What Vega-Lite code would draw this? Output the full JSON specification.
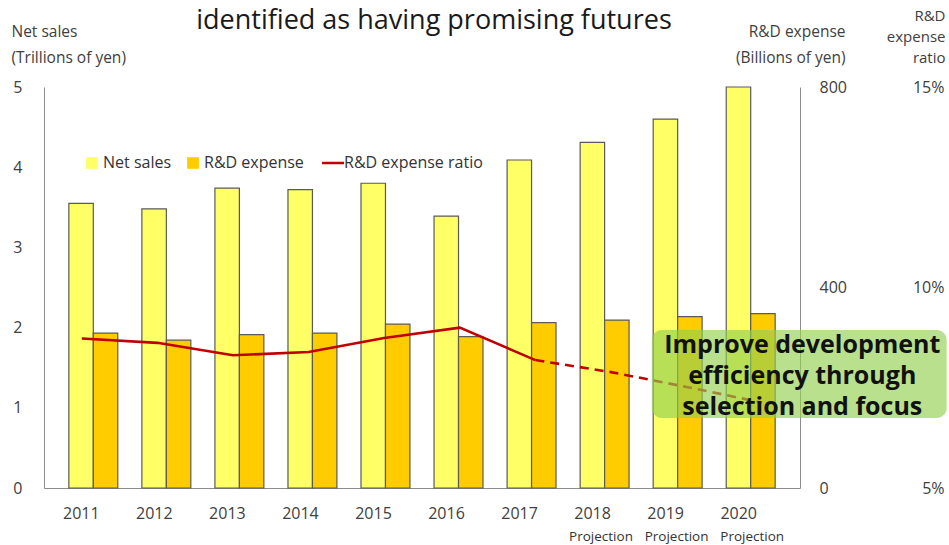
{
  "$schema": "https://vega.github.io/schema/vega-lite/v6.json",
  "width": 756,
  "height": 401,
  "autosize": {"type": "none"},
  "padding": {"left": 44, "top": 87, "right": 149, "bottom": 57},
  "background": "white",
  "config": {
    "view": {"stroke": null},
    "font": "Open Sans",
    "axis": {"labelFont": "Open Sans", "titleFont": "Open Sans", "labelColor": "#404040", "titleColor": "#404040", "grid": false, "ticks": false, "tickSize": 0, "domainColor": "#8c8c8c", "labelFontSize": 16}
  },
  "title": {"text": "identified as having promising futures", "font": "Open Sans", "fontSize": 27, "fontWeight": "normal", "color": "#1a1a1a", "anchor": "middle", "frame": "group", "dx": 12, "dy": 31},
  "data": {
    "values": [
      {"year": 2011, "status": "Actual", "net_sales": 3.55, "rd_expense": 309, "rd_ratio": 8.73},
      {"year": 2012, "status": "Actual", "net_sales": 3.48, "rd_expense": 295, "rd_ratio": 8.62},
      {"year": 2013, "status": "Actual", "net_sales": 3.74, "rd_expense": 306, "rd_ratio": 8.31},
      {"year": 2014, "status": "Actual", "net_sales": 3.72, "rd_expense": 309, "rd_ratio": 8.39},
      {"year": 2015, "status": "Actual", "net_sales": 3.80, "rd_expense": 327, "rd_ratio": 8.74},
      {"year": 2016, "status": "Actual", "net_sales": 3.39, "rd_expense": 302, "rd_ratio": 9.00},
      {"year": 2017, "status": "Actual", "net_sales": 4.09, "rd_expense": 330, "rd_ratio": 8.19},
      {"year": 2018, "status": "Projection", "net_sales": 4.31, "rd_expense": 335, "rd_ratio": 7.89},
      {"year": 2019, "status": "Projection", "net_sales": 4.60, "rd_expense": 342, "rd_ratio": 7.52},
      {"year": 2020, "status": "Projection", "net_sales": 5.00, "rd_expense": 348, "rd_ratio": 7.13}
    ]
  },
  "layer": [
    {
      "layer": [
        {
          "mark": {"type": "bar", "stroke": "#5a5a5a", "strokeWidth": 1.2},
          "encoding": {
            "x": {"field": "year", "type": "ordinal", "scale": {"domain": [2011,2012,2013,2014,2015,2016,2017,2018,2019,2020], "paddingInner": 0.33, "paddingOuter": 0.34},
                  "axis": {"title": null, "labelAngle": 0, "labelPadding": 17, "labelOffset": -12, "labelFontSize": 16, "domainColor": "#8c8c8c"}},
            "xOffset": {"datum": "Net sales", "scale": {"domain": ["Net sales", "R&D expense"], "paddingInner": 0, "paddingOuter": 0}},
            "y": {"field": "net_sales", "type": "quantitative", "scale": {"domain": [0, 5]},
                  "axis": {"orient": "left", "values": [0,1,2,3,4,5], "labelPadding": 22, "domain": true,
                           "title": ["Net sales", "(Trillions of yen)"], "titleAngle": 0, "titleAlign": "left", "titleBaseline": "alphabetic",
                           "titleX": -33, "titleY": -51, "titleLineHeight": 26, "titleFontSize": 15.5, "titleFontWeight": "normal"}},
            "color": {"datum": "Net sales", "scale": {"domain": ["Net sales", "R&D expense", "R&D expense ratio"], "range": ["#FFFF66", "#FFCC00", "#C00000"]},
                      "legend": {"orient": "none", "legendX": 40, "legendY": 68, "direction": "horizontal", "title": null, "padding": 0,
                                 "labelFont": "Open Sans", "labelFontSize": 16, "labelColor": "#333333", "labelOffset": 3, "columnPadding": 13,
                                 "symbolType": "square", "symbolSize": 110, "symbolStrokeColor": "#555555", "symbolStrokeWidth": 1,
                                 "encode": {"symbols": {"update": {
                                   "shape": {"signal": "datum.value === 'R&D expense ratio' ? 'stroke' : 'square'"},
                                   "size": {"signal": "datum.value === 'R&D expense ratio' ? 484 : 110"},
                                   "stroke": {"signal": "datum.value === 'R&D expense ratio' ? '#C00000' : '#555555'"},
                                   "strokeWidth": {"signal": "datum.value === 'R&D expense ratio' ? 2.5 : 1.2"}
                                 }}}}}
          }
        },
        {
          "mark": {"type": "bar", "stroke": "#5a5a5a", "strokeWidth": 1.2},
          "encoding": {
            "x": {"field": "year", "type": "ordinal"},
            "xOffset": {"datum": "R&D expense"},
            "y": {"field": "rd_expense", "type": "quantitative", "scale": {"domain": [0, 800]},
                  "axis": {"orient": "right", "values": [0,400,800], "labelPadding": 19, "labelAlign": "left", "domain": true,
                           "title": ["R&D expense", "(Billions of yen)"], "titleAngle": 0, "titleAlign": "right", "titleBaseline": "alphabetic",
                           "titleX": 45, "titleY": -51, "titleLineHeight": 26, "titleFontSize": 15.5, "titleFontWeight": "normal"}},
            "color": {"datum": "R&D expense"}
          }
        }
      ],
      "resolve": {"scale": {"y": "independent"}}
    },
    {
      "transform": [{"filter": "datum.year <= 2017"}],
      "mark": {"type": "line", "strokeWidth": 2.6},
      "encoding": {
        "x": {"field": "year", "type": "ordinal", "scale": {"domain": [2011,2012,2013,2014,2015,2016,2017,2018,2019,2020], "paddingInner": 0.33, "paddingOuter": 0.34}, "axis": null},
        "y": {"field": "rd_ratio", "type": "quantitative", "scale": {"domain": [5, 15]},
              "axis": {"orient": "right", "offset": 100, "values": [5,10,15], "labelExpr": "datum.value + '%'", "domain": false,
                       "labelAlign": "right", "labelPadding": 44,
                       "title": ["R&D", "expense", "ratio"], "titleAngle": 0, "titleAlign": "right", "titleBaseline": "alphabetic",
                       "titleX": 45, "titleY": -67, "titleLineHeight": 21, "titleFontSize": 15, "titleFontWeight": "normal"}},
        "color": {"datum": "R&D expense ratio"}
      }
    },
    {
      "transform": [{"filter": "datum.year >= 2017"}],
      "mark": {"type": "line", "strokeWidth": 2.6, "strokeDash": [9, 6]},
      "encoding": {
        "x": {"field": "year", "type": "ordinal", "scale": {"domain": [2011,2012,2013,2014,2015,2016,2017,2018,2019,2020], "paddingInner": 0.33, "paddingOuter": 0.34}, "axis": null},
        "y": {"field": "rd_ratio", "type": "quantitative", "scale": {"domain": [5, 15]}, "axis": null},
        "color": {"datum": "R&D expense ratio"}
      }
    },
    {
      "transform": [{"filter": "datum.status === 'Projection'"}],
      "mark": {"type": "text", "font": "Open Sans", "fontSize": 13.5, "color": "#333333", "dx": -10},
      "encoding": {
        "x": {"field": "year", "type": "ordinal", "scale": {"domain": [2011,2012,2013,2014,2015,2016,2017,2018,2019,2020], "paddingInner": 0.33, "paddingOuter": 0.34}, "axis": null},
        "y": {"datum": -0.61, "type": "quantitative", "scale": {"domain": [0, 5]}, "axis": null},
        "text": {"field": "status"}
      }
    },
    {
      "transform": [{"filter": "datum.year === 2020"}],
      "mark": {"type": "rect", "fill": "#92D050", "fillOpacity": 0.65, "cornerRadius": 10},
      "encoding": {
        "x": {"datum": 8.04, "type": "quantitative", "scale": {"domain": [0, 10]}, "axis": null},
        "x2": {"datum": 11.94},
        "y": {"datum": 1.97, "type": "quantitative", "scale": {"domain": [0, 5]}, "axis": null},
        "y2": {"datum": 0.873}
      }
    },
    {
      "transform": [{"filter": "datum.year === 2020"}],
      "mark": {"type": "text", "font": "Open Sans", "fontSize": 25, "fontWeight": "bold", "color": "#111111", "align": "center", "baseline": "middle", "lineHeight": 31},
      "encoding": {
        "x": {"datum": 10.03, "type": "quantitative", "scale": {"domain": [0, 10]}, "axis": null},
        "y": {"datum": 1.78, "type": "quantitative", "scale": {"domain": [0, 5]}, "axis": null},
        "text": {"value": ["Improve development", "efficiency through", "selection and focus"]}
      }
    }
  ],
  "resolve": {"scale": {"x": "independent", "y": "independent"}}
}
